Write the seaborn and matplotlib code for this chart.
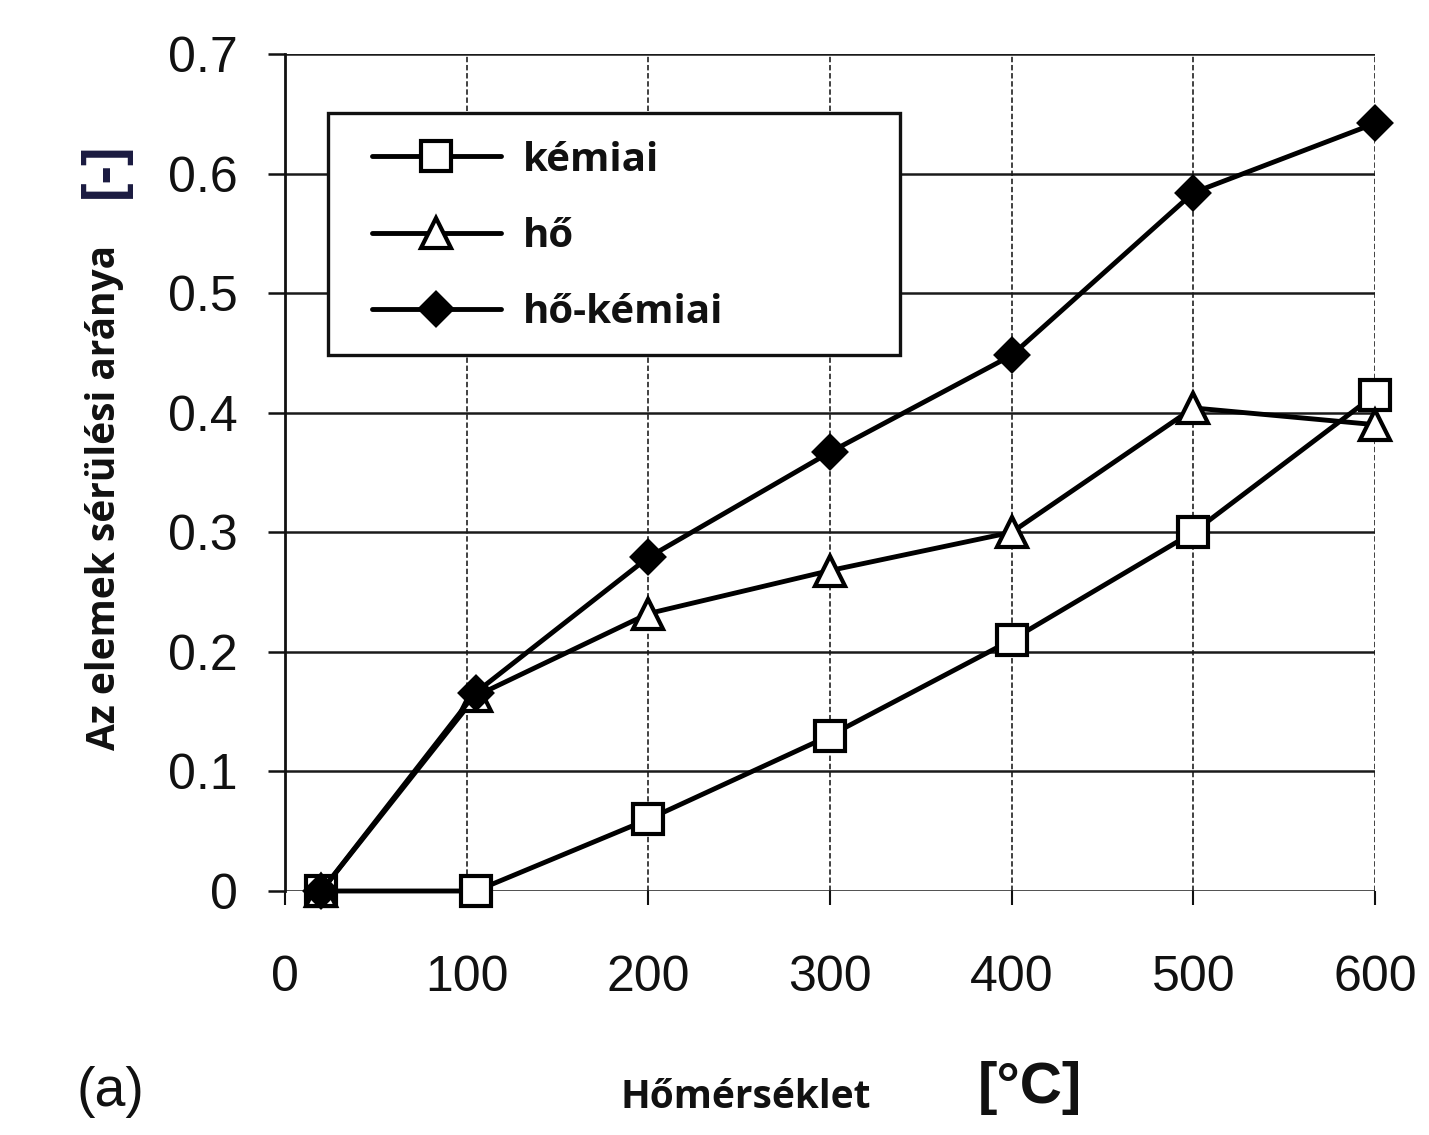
import matplotlib
matplotlib.use('Agg')
import matplotlib.pyplot as plt
from matplotlib.patches import Rectangle
import seaborn as sns
import pandas as pd

# ---- data ----
temps = [20, 105, 200, 300, 400, 500, 600]
kemiai = [0.0, 0.0, 0.06, 0.13, 0.21, 0.30, 0.415]
ho = [0.0, 0.163, 0.232, 0.268, 0.30, 0.404, 0.39]
ho_kemiai = [0.0, 0.166, 0.279, 0.367, 0.448, 0.584, 0.642]
series_names = ['kémiai', 'hő', 'hő-kémiai']
x_ticks = [0, 100, 200, 300, 400, 500, 600]
y_ticks = [0, 0.1, 0.2, 0.3, 0.4, 0.5, 0.6, 0.7]
y_tick_labels = ['0', '0.1', '0.2', '0.3', '0.4', '0.5', '0.6', '0.7']

df = pd.DataFrame({'T': temps * 3,
                   'v': kemiai + ho + ho_kemiai,
                   's': [series_names[0]] * 7 + [series_names[1]] * 7 + [series_names[2]] * 7})

sns.set_theme(style='white')
plt.rcParams['font.family'] = ['Liberation Sans', 'DejaVu Sans']

W, H = 1429, 1135
fig = plt.figure(figsize=(W / 100, H / 100), dpi=100)
ax = fig.add_axes([285 / W, 1 - 891 / H, 1090 / W, 837 / H])

styles = {
    'kémiai': dict(marker='s', markersize=21, markerfacecolor='white'),
    'hő': dict(marker='^', markersize=22, markerfacecolor='white'),
    'hő-kémiai': dict(marker='D', markersize=16, markerfacecolor='black'),
}
for name in series_names:
    sub = df[df['s'] == name]
    sns.lineplot(data=sub, x='T', y='v', ax=ax, color='black', lw=3.5,
                 markeredgecolor='black', markeredgewidth=3.0,
                 clip_on=False, label=name, zorder=3, **styles[name])

ax.set_xlim(0, 600)
ax.set_ylim(0, 0.7)
ax.set_xticks(x_ticks)
ax.set_xticklabels([str(t) for t in x_ticks])
ax.set_yticks(y_ticks)
ax.set_yticklabels(y_tick_labels)
ax.set_xlabel('')
ax.set_ylabel('')

for lab in ax.get_xticklabels() + ax.get_yticklabels():
    lab.set_fontfamily('Liberation Sans')
    lab.set_fontsize(36)
    lab.set_color('#111111')

ax.tick_params(axis='y', direction='out', length=12, width=1.8, pad=22, color='#111111', left=True)
ax.tick_params(axis='x', direction='out', length=10, width=1.5, pad=36, color='#111111', bottom=True)

ax.set_axisbelow(True)
ax.grid(axis='y', color='#1a1a1a', lw=1.8, ls='-')
ax.grid(axis='x', color='#333333', lw=1.3, ls=(0, (3, 1.5)))

for s in ['top', 'right', 'bottom']:
    ax.spines[s].set_visible(False)
ax.spines['left'].set_color('#111111')
ax.spines['left'].set_linewidth(2.0)

# legend frame drawn as a box, legend content placed inside it
box = Rectangle((0.0394, 0.6404), 0.5248, 0.2891, transform=ax.transAxes,
                facecolor='white', edgecolor='#111111', lw=2.4, zorder=4)
ax.add_patch(box)
leg = ax.legend(loc='center left', bbox_to_anchor=(0.0798, 0.782),
                frameon=False, borderaxespad=0, borderpad=0,
                prop={'family': 'Open Sans', 'weight': 'bold', 'size': 29},
                handlelength=3.2, handletextpad=0.55, labelspacing=0.93)
leg.set_zorder(5)
for t in leg.get_texts():
    t.set_color('#111111')

fig.text(105 / W, 1 - 497 / H, 'Az elemek sérülési aránya', rotation=90,
         ha='center', va='center', fontfamily='Open Sans', fontweight='bold',
         fontsize=28, color='#111111')
fig.text(105 / W, 1 - 170 / H, '[-]', rotation=90, ha='center', va='center',
         fontfamily='Liberation Sans', fontweight='bold', fontsize=40, color='#1a1a40')
fig.text(746 / W, 1 - 1097 / H, 'Hőmérséklet', ha='center', va='center',
         fontfamily='Open Sans', fontweight='bold', fontsize=28, color='#111111')
fig.text(1030 / W, 1 - 1088 / H, '[°C]', ha='center', va='center',
         fontfamily='Liberation Sans', fontweight='bold', fontsize=42, color='#111111')
fig.text(110 / W, 1 - 1092 / H, '(a)', ha='center', va='center',
         fontfamily='Liberation Sans', fontsize=40, color='#111111')

fig.savefig('out.png', dpi=100, facecolor='white')
